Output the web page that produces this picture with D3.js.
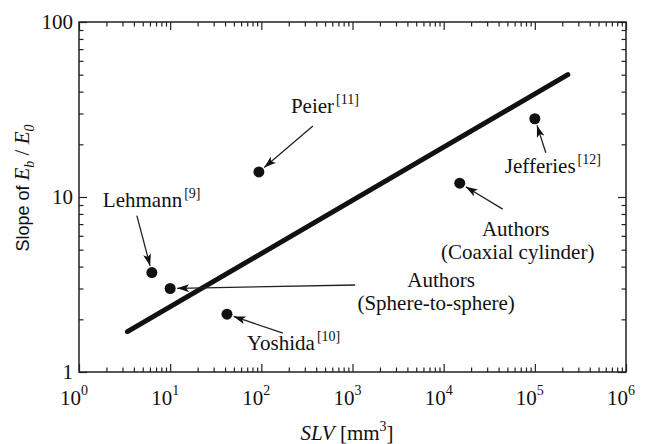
<!DOCTYPE html>
<html>
<head>
<meta charset="utf-8">
<script src="https://cdn.jsdelivr.net/npm/d3@7"></script>
<style>
  html, body { margin: 0; padding: 0; background: #fff; }
  svg { display: block; }
</style>
</head>
<body>
<svg id="chart" width="645" height="444"></svg>
<script>
// Measured sources: SLV (mm^3) against slope of Eb/E0
const sources = ["Peier", "Lehmann", "Authors (Sphere-to-sphere)", "Yoshida", "Jefferies", "Authors (Coaxial cylinder)"];
const slvValues = [94, 6.3, 10, 42, 1.0e5, 1.5e4];
const slopeValues = [13.9, 3.7, 3.0, 2.14, 28, 12];

// Fitted trend line end points
const fitSLV = [3.4, 2.3e5];
const fitSlope = [1.7, 50];

// Axis tick labels
const xTickExponents = ["0", "1", "2", "3", "4", "5", "6"];
const yTickLabels = ["1", "10", "100"];

// Annotation text per source
const noteLines = [
  [{ text: "Peier", sup: "[11]" }],
  [{ text: "Lehmann", sup: "[9]" }],
  [{ text: "Authors" }, { text: "(Sphere-to-sphere)" }],
  [{ text: "Yoshida", sup: "[10]" }],
  [{ text: "Jefferies", sup: "[12]" }],
  [{ text: "Authors" }, { text: "(Coaxial cylinder)" }]
];

// Layout: label and arrow-tail offsets relative to each point (px)
const noteLayout = [
  { lines: [[32, -59, "start"]], tail: [54, -46] },
  { lines: [[-49, -66, "start"]], tail: [-15, -57] },
  { lines: [[271, -2, "middle"], [266, 21, "middle"]], tail: [185, -3.5] },
  { lines: [[20, 36, "start"]], tail: [56, 19] },
  { lines: [[-30, 54, "start"]], tail: [11, 34] },
  { lines: [[56, 53, "middle"], [58, 76, "middle"]], tail: [43, 26] }
];

const SERIF = "'Liberation Serif', 'Times New Roman', serif";
const SANS = "'Liberation Sans', Arial, sans-serif";

const svg = d3.select("#chart");
const L = 79, R = 626, T = 22, B = 372;
const fontSize = 21, supSize = 14;

const x = d3.scaleLog().domain([1, 1e6]).range([L, R]);
const y = d3.scaleLog().domain([1, 100]).range([B, T]);

const isMajor = v => Math.abs(Math.log10(v) - Math.round(Math.log10(v))) < 1e-9;

function serifText(sel) {
  return sel.style("font-family", SERIF)
    .style("font-size", fontSize + "px").attr("fill", "#111");
}

// Inward ticks on all four sides
function styleTicks(g, sign, horizontal) {
  g.select(".domain").remove();
  g.selectAll(".tick text").remove();
  g.selectAll(".tick line")
    .attr("stroke", "#222")
    .attr("stroke-width", 1.2)
    .attr(horizontal ? "y2" : "x2", d => sign * (isMajor(d) ? 8 : 4.5));
}
const xt = x.ticks();
const yt = y.ticks();
svg.append("g").attr("transform", `translate(0,${B})`)
  .call(d3.axisBottom(x).tickValues(xt).tickSize(0))
  .call(g => styleTicks(g, -1, true));
svg.append("g").attr("transform", `translate(0,${T})`)
  .call(d3.axisTop(x).tickValues(xt).tickSize(0))
  .call(g => styleTicks(g, 1, true));
svg.append("g").attr("transform", `translate(${L},0)`)
  .call(d3.axisLeft(y).tickValues(yt).tickSize(0))
  .call(g => styleTicks(g, 1, false));
svg.append("g").attr("transform", `translate(${R},0)`)
  .call(d3.axisRight(y).tickValues(yt).tickSize(0))
  .call(g => styleTicks(g, -1, false));

// Frame
svg.append("rect")
  .attr("x", L).attr("y", T).attr("width", R - L).attr("height", B - T)
  .attr("fill", "none").attr("stroke", "#222").attr("stroke-width", 1.5);

// X tick labels: powers of ten
xTickExponents.forEach(e => {
  const t = svg.append("text")
    .attr("x", x(Math.pow(10, +e)) - 5).attr("y", 405)
    .attr("text-anchor", "middle")
    .call(serifText);
  t.append("tspan").text("10");
  t.append("tspan").attr("dy", -10).style("font-size", supSize + "px").text(e);
});

// Y tick labels
yTickLabels.forEach(s => {
  svg.append("text")
    .attr("x", L - 6).attr("y", y(+s)).attr("dy", "0.35em")
    .attr("text-anchor", "end")
    .call(serifText)
    .text(s);
});

// Axis titles
const xt1 = svg.append("text")
  .attr("x", 347).attr("y", 440).attr("text-anchor", "middle")
  .call(serifText);
xt1.append("tspan").style("font-style", "italic").text("SLV");
xt1.append("tspan").text(" [mm");
xt1.append("tspan").attr("dy", -9).style("font-size", supSize + "px").text("3");
xt1.append("tspan").attr("dy", 9).text("]");

const yt1 = svg.append("text")
  .attr("transform", `translate(29,188) rotate(-90)`)
  .attr("text-anchor", "middle")
  .call(serifText);
yt1.append("tspan").style("font-family", SANS).style("font-size", "18px").text("Slope of ");
yt1.append("tspan").style("font-style", "italic").text("E");
yt1.append("tspan").attr("dy", 5).style("font-style", "italic").style("font-size", supSize + "px").text("b");
yt1.append("tspan").attr("dy", -5).text(" / ");
yt1.append("tspan").style("font-style", "italic").text("E");
yt1.append("tspan").attr("dy", 5).style("font-style", "italic").style("font-size", supSize + "px").text("0");

// Trend line
const line = d3.line().x(d => x(d[0])).y(d => y(d[1]));
svg.append("path")
  .datum(d3.zip(fitSLV, fitSlope))
  .attr("d", line)
  .attr("fill", "none").attr("stroke", "#111")
  .attr("stroke-width", 5).attr("stroke-linecap", "round");

// Arrowhead marker
svg.append("defs").append("marker")
  .attr("id", "head").attr("viewBox", "0 0 12 8")
  .attr("refX", 12).attr("refY", 4)
  .attr("markerWidth", 12).attr("markerHeight", 8)
  .attr("markerUnits", "userSpaceOnUse")
  .attr("orient", "auto")
  .append("path").attr("d", "M0,0 L12,4 L0,8 L3,4 Z").attr("fill", "#111");

const pts = sources.map((s, i) => ({ name: s, px: x(slvValues[i]), py: y(slopeValues[i]) }));
const r = 5.5;

// Annotation arrows
pts.forEach((p, i) => {
  const [tx, ty] = noteLayout[i].tail;
  const len = Math.hypot(tx, ty);
  const ux = tx / len, uy = ty / len;
  svg.append("line")
    .attr("x1", p.px + tx).attr("y1", p.py + ty)
    .attr("x2", p.px + ux * (r + 1.5)).attr("y2", p.py + uy * (r + 1.5))
    .attr("stroke", "#222").attr("stroke-width", 1.3)
    .attr("marker-end", "url(#head)");
});

// Points
svg.append("g").selectAll("circle").data(pts).join("circle")
  .attr("cx", d => d.px).attr("cy", d => d.py).attr("r", r)
  .attr("fill", "#111");

// Annotation labels
pts.forEach((p, i) => {
  noteLines[i].forEach((ln, j) => {
    const [dx, dy, anchor] = noteLayout[i].lines[j];
    const t = svg.append("text")
      .attr("x", p.px + dx).attr("y", p.py + dy)
      .attr("text-anchor", anchor)
      .call(serifText);
    t.append("tspan").text(ln.text);
    if (ln.sup) {
      t.append("tspan").attr("dx", 2).attr("dy", -9)
        .style("font-size", supSize + "px").text(ln.sup);
    }
  });
});
</script>
</body>
</html>
